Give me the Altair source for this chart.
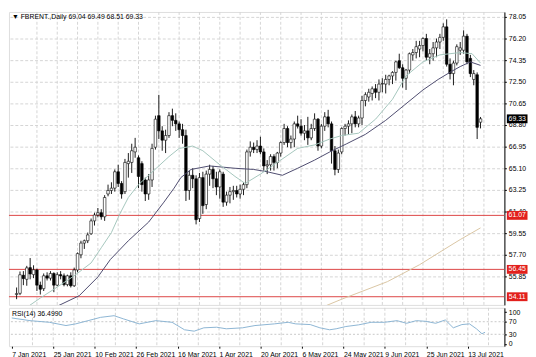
import altair as alt
import pandas as pd

# ---------------- data ----------------
date_labels = ["7 Jan 2021", "25 Jan 2021", "10 Feb 2021", "26 Feb 2021", "16 Mar 2021",
               "1 Apr 2021", "20 Apr 2021", "6 May 2021", "24 May 2021", "9 Jun 2021",
               "25 Jun 2021", "13 Jul 2021"]
date_bars = [0, 12, 24, 36, 48, 60, 72, 84, 96, 108, 120, 132]
grid_bars = [6, 12, 18, 24, 30, 36, 42, 48, 54, 60, 66, 72, 78, 84, 90, 96, 102, 108,
             114, 120, 126, 132, 138]

opens = [
    54.30, 54.40, 55.95, 55.60, 56.60, 56.00, 56.40, 55.10, 54.80, 55.90,
    55.70, 56.10, 55.10, 56.00, 55.90, 55.15, 55.90, 55.05, 56.40, 57.70,
    58.70, 58.90, 59.50, 60.60, 61.10, 61.30, 60.95, 62.90, 63.20, 63.40,
    64.80, 63.80, 63.10, 65.50, 65.60, 66.50, 66.00, 65.50, 64.10, 62.90,
    64.10, 66.90, 69.60, 68.30, 67.50, 67.90, 69.60, 69.20, 68.90, 68.40,
    67.90, 63.20, 64.50, 64.20, 60.80, 64.30, 62.00, 64.60, 65.00, 64.20,
    63.50, 64.60, 62.20, 62.80, 63.10, 63.20, 62.90, 63.30, 63.70, 66.50,
    66.90, 66.70, 67.00, 66.50, 65.30, 65.40, 66.10, 65.60, 66.40, 67.30,
    68.50, 67.30, 67.60, 68.90, 68.70, 68.10, 68.30, 67.70, 68.50, 69.30,
    67.00, 68.70, 69.50, 68.90, 66.60, 65.00, 66.50, 68.50, 68.70, 68.90,
    69.50, 68.90, 69.40, 70.90, 71.20, 71.50, 71.90, 71.60, 72.30, 72.30,
    72.70, 73.00, 73.30, 74.30, 73.70, 72.80, 73.50, 74.80, 75.00, 75.30,
    75.60, 76.20, 74.60, 74.90, 75.40, 75.90, 76.30, 77.20, 74.00, 73.20,
    74.10, 75.20, 75.20, 76.40, 74.50, 72.70, 73.10, 69.04]
highs = [
    54.90, 56.27, 56.30, 56.75, 57.42, 56.80, 56.50, 55.40, 56.10, 56.20,
    56.30, 56.20, 56.20, 56.30, 56.10, 56.00, 56.20, 56.60, 57.90, 58.90,
    59.00, 59.60, 60.80, 61.30, 61.70, 61.60, 62.80, 63.70, 63.90, 65.00,
    65.40, 64.00, 65.90, 66.40, 67.20, 67.70, 66.20, 65.70, 64.30, 64.60,
    67.20, 69.60, 71.38, 68.70, 68.40, 69.90, 70.20, 69.80, 69.10, 68.90,
    68.40, 64.90, 65.10, 64.50, 64.70, 64.80, 64.90, 65.40, 65.30, 64.80,
    65.00, 64.80, 63.10, 63.50, 63.60, 63.60, 63.70, 63.90, 66.70, 67.40,
    67.30, 67.50, 67.80, 66.80, 65.80, 66.30, 66.30, 66.50, 67.40, 68.90,
    68.70, 67.90, 69.10, 69.60, 69.30, 68.80, 69.50, 68.90, 69.80, 69.40,
    68.90, 69.90, 70.10, 69.10, 67.00, 66.70, 68.60, 68.90, 69.20, 69.70,
    70.00, 69.60, 71.30, 71.60, 71.90, 72.10, 72.30, 72.70, 72.80, 73.10,
    73.10, 73.40, 74.30, 74.90, 74.00, 73.60, 75.00, 75.30, 76.00, 76.00,
    76.30, 76.60, 75.30, 75.90, 76.20, 76.60, 77.50, 77.84, 74.50, 74.30,
    75.70, 75.90, 76.90, 76.60, 74.80, 73.50, 73.30, 69.49]
lows = [
    53.90, 54.25, 55.10, 55.05, 55.60, 55.70, 54.60, 54.30, 54.60, 55.50,
    55.50, 54.50, 55.00, 55.60, 55.00, 55.00, 54.90, 54.95, 56.20, 57.40,
    58.20, 58.70, 59.40, 60.20, 60.90, 60.70, 60.60, 62.70, 62.90, 63.10,
    63.50, 62.50, 62.90, 64.30, 64.70, 66.00, 63.40, 63.10, 62.30, 62.40,
    63.50, 66.70, 67.60, 66.60, 66.40, 67.70, 68.70, 68.30, 67.70, 67.20,
    62.30, 62.40, 63.40, 60.30, 60.50, 61.20, 61.60, 63.60, 63.40, 62.80,
    62.50, 61.80, 61.90, 62.10, 62.40, 62.60, 62.50, 62.80, 63.40, 66.10,
    66.40, 66.40, 66.30, 64.90, 64.60, 64.90, 64.90, 65.10, 66.10, 67.10,
    66.90, 66.80, 66.90, 68.50, 67.90, 67.50, 67.10, 67.50, 68.30, 66.60,
    66.80, 68.30, 68.60, 65.50, 64.50, 64.70, 66.30, 67.90, 68.00, 68.10,
    68.60, 68.60, 68.80, 70.40, 70.80, 70.90, 71.10, 70.90, 71.60, 71.50,
    72.20, 72.30, 72.60, 73.60, 72.00, 71.80, 73.20, 74.30, 74.50, 74.60,
    75.10, 74.30, 74.00, 74.30, 74.60, 75.30, 76.00, 73.80, 72.70, 72.20,
    73.90, 74.80, 74.90, 74.00, 72.90, 72.20, 67.60, 68.51]
closes = [
    54.38, 55.99, 55.66, 56.58, 56.06, 56.42, 55.10, 54.75, 55.90, 55.70,
    56.10, 55.10, 56.00, 55.90, 55.15, 55.90, 55.05, 56.40, 57.80, 58.70,
    58.90, 59.40, 60.60, 61.10, 61.30, 60.95, 62.60, 63.20, 63.40, 64.80,
    63.80, 62.90, 65.60, 65.70, 66.60, 66.90, 64.40, 63.70, 62.90, 64.10,
    66.80, 69.30, 68.30, 67.50, 67.90, 69.60, 69.20, 68.90, 68.40, 67.90,
    63.20, 64.50, 64.20, 60.70, 64.30, 61.90, 64.60, 65.00, 64.20, 63.50,
    64.80, 62.20, 62.80, 63.10, 63.20, 62.90, 63.30, 63.70, 66.50, 66.90,
    66.70, 67.00, 66.50, 65.30, 65.40, 66.10, 65.60, 66.40, 67.30, 68.50,
    67.30, 67.60, 68.90, 68.70, 68.10, 68.30, 67.70, 68.50, 69.30, 67.00,
    68.70, 69.50, 68.90, 66.60, 65.00, 66.40, 68.50, 68.70, 68.90, 69.50,
    68.90, 69.40, 70.90, 71.40, 71.60, 71.90, 71.60, 72.30, 72.35, 72.70,
    73.00, 73.30, 74.20, 73.70, 72.80, 73.50, 74.90, 75.00, 75.50, 75.60,
    76.20, 74.60, 74.90, 75.40, 75.90, 76.30, 77.20, 74.00, 73.20, 74.10,
    75.50, 75.40, 76.40, 74.20, 73.20, 73.20, 68.60, 69.33]

# moving averages, read at sampled bar positions
ma_fast_bar = [3, 7, 11, 17, 22, 25, 28, 30.5, 33, 36, 39, 42, 45, 48, 52, 55, 60, 64.5,
               67.5, 72, 78, 83, 88, 92.5, 96, 101, 106, 111, 115, 120, 125, 131, 134.5, 137]
ma_fast_val = [53.2, 54.0, 54.75, 55.9, 57.0, 58.3, 59.6, 61.2, 62.6, 63.7, 64.5, 65.3, 66.1,
               66.8, 67.0, 66.6, 65.4, 64.4, 63.8, 64.6, 65.8, 66.8, 67.1, 67.6, 67.9, 68.1,
               69.3, 71.0, 73.0, 74.2, 74.8, 75.0, 74.9, 74.1]
ma_slow_bar = [12, 18.5, 24, 27.7, 33, 39, 43.5, 46.5, 48.5, 51.5, 57, 64.5, 70, 74, 78.5,
               83, 88, 92.5, 97.5, 103, 109, 114.5, 120, 124.5, 128.5, 131, 134, 137]
ma_slow_val = [53.3, 54.2, 55.8, 57.3, 58.9, 60.5, 62.2, 63.4, 64.3, 65.0, 65.3, 65.1, 65.0,
               64.8, 64.5, 65.1, 65.8, 66.5, 67.2, 68.0, 69.2, 70.5, 71.8, 72.7, 73.4, 73.8,
               74.2, 73.9]
ma_long_bar = [91, 96, 100.5, 109.5, 119, 126.5, 131, 137]
ma_long_val = [53.3, 53.9, 54.4, 55.4, 56.85, 58.2, 59.0, 60.0]

rsi_bar = [0, 5.3, 10.9, 15.7, 18.5, 22.1, 25.7, 29.6, 32.4, 36.9, 41.7, 46.4, 50, 52.8,
           55.6, 59.3, 62.1, 66.8, 70.4, 76, 80, 82.2, 86.4, 89.2, 92, 93.9, 96.7, 100.4,
           104, 107.9, 111.5, 114.3, 117.1, 119.9, 122.7, 125.5, 127.8, 130.3, 132.5,
           134.5, 136.1, 137]
rsi_val = [81.9, 73.4, 68.1, 57.8, 63.1, 73.4, 83.8, 89.1, 78.8, 63.1, 73.4, 68.1, 44.4, 40.0,
           50.6, 52.5, 47.5, 50.6, 57.8, 63.1, 68.1, 63.1, 60.9, 50.6, 44.4, 47.5, 54.7, 60.0,
           68.1, 68.1, 73.4, 65.0, 73.4, 71.2, 65.0, 75.6, 50.6, 60.9, 63.1, 47.5, 31.9, 36.5]

price_ticks = [78.05, 76.20, 74.35, 72.50, 70.65, 68.80, 66.95, 65.10, 63.25, 61.40,
               59.55, 57.70, 55.85]
level_lines = [61.07, 56.45, 54.11]
last_price = [69.33]
rsi_ticks = [0, 30, 70, 100]
rsi_levels = [30, 70]
header_text = ["\u25bc FBRENT.,Daily  69.04 69.49 68.51 69.33"]
rsi_text = ["RSI(14) 36.4990"]

# ---------------- chart ----------------
W = 504
H_MAIN = 298
H_RSI = 39
FONT = "Liberation Sans"
FS = 7

xs = alt.Scale(domain=[-0.8, 142.6], nice=False, zero=False)
ys = alt.Scale(domain=[53.41, 78.47], nice=False, zero=False)
rs = alt.Scale(domain=[-7.8, 114], nice=False, zero=False)

bars = pd.DataFrame({"i": list(range(len(opens))), "open": opens, "high": highs,
                     "low": lows, "close": closes})
fast = pd.DataFrame({"i": ma_fast_bar, "v": ma_fast_val})
slow = pd.DataFrame({"i": ma_slow_bar, "v": ma_slow_val})
long_ = pd.DataFrame({"i": ma_long_bar, "v": ma_long_val})
grid_df = pd.DataFrame({"g": grid_bars})
lv = pd.DataFrame({"price": level_lines, "txt": [f"{v:.2f}" for v in level_lines]})
lp = pd.DataFrame({"price": last_price, "txt": [f"{v:.2f}" for v in last_price]})
hdr = pd.DataFrame({"t": header_text})

yaxis = alt.Axis(orient="right", values=price_ticks, format=".2f", grid=True,
                 gridColor="#d4d4d4", gridDash=[3, 2], gridWidth=1, tickSize=2,
                 tickColor="black", domainColor="black", labelFontSize=FS, labelFont=FONT,
                 labelColor="black", labelPadding=2, labelOverlap=False, labelFlush=False,
                 title=None)

def X(field):
    return alt.X(field, type="quantitative", scale=xs, axis=None)

def Y(field):
    return alt.Y(field, type="quantitative", scale=ys, axis=yaxis)

vgrid = alt.Chart(grid_df).mark_rule(color="#d4d4d4", strokeDash=[3, 2], strokeWidth=1).encode(
    x=X("g"))
red_lines = alt.Chart(lv).mark_rule(color="#dc4444", strokeWidth=1).encode(y=Y("price"))
wicks = alt.Chart(bars).mark_rule(color="black", strokeWidth=0.9).encode(
    x=X("i"), y=Y("low"), y2="high")
bodies = alt.Chart(bars).mark_bar(width=2.6, stroke="black", strokeWidth=0.6).encode(
    x=X("i"), y=Y("open"), y2="close",
    color=alt.condition("datum.close >= datum.open", alt.value("white"), alt.value("black")))
line_long = alt.Chart(long_).mark_line(color="#d9c5a2", strokeWidth=1, clip=True).encode(
    x=X("i"), y=Y("v"))
line_slow = alt.Chart(slow).mark_line(color="#4c4a6e", strokeWidth=1, clip=True).encode(
    x=X("i"), y=Y("v"))
line_fast = alt.Chart(fast).mark_line(color="#a4c6bd", strokeWidth=1, clip=True).encode(
    x=X("i"), y=Y("v"))
lv_box = alt.Chart(lv).mark_tick(orient="horizontal", size=21, thickness=9, color="#e2201c",
                                 opacity=1).encode(x=alt.value(W + 13), y=Y("price"))
lv_txt = alt.Chart(lv).mark_text(color="white", fontSize=FS, font=FONT, align="center",
                                 baseline="middle").encode(
    x=alt.value(W + 13), y=Y("price"), text="txt:N")
lp_box = alt.Chart(lp).mark_tick(orient="horizontal", size=21, thickness=9, color="black",
                                 opacity=1).encode(x=alt.value(W + 13), y=Y("price"))
lp_txt = alt.Chart(lp).mark_text(color="white", fontSize=FS, font=FONT, align="center",
                                 baseline="middle").encode(
    x=alt.value(W + 13), y=Y("price"), text="txt:N")
header = alt.Chart(hdr).mark_text(color="black", fontSize=FS, font=FONT, align="left",
                                  baseline="middle").encode(
    x=alt.value(3), y=alt.value(5), text="t:N")

main = alt.layer(vgrid, red_lines, line_long, wicks, bodies, line_slow, line_fast,
                 lv_box, lv_txt, lp_box, lp_txt, header).properties(width=W, height=H_MAIN)

# RSI panel
rsi_df = pd.DataFrame({"i": rsi_bar, "r": rsi_val})
lvl_df = pd.DataFrame({"lv": rsi_levels})
rtxt = pd.DataFrame({"t": rsi_text})
label_expr = "[" + ",".join(f"'{d}'" for d in date_labels) + "][round(datum.value / 12)]"
xaxis_rsi = alt.Axis(values=date_bars, labelExpr=label_expr, labelAlign="left",
                     labelFlush=False, labelFontSize=FS, labelFont=FONT, labelColor="black",
                     labelPadding=2, tickSize=2, tickColor="black", domain=False, grid=False,
                     labelOverlap=False, title=None)
raxis = alt.Axis(orient="right", values=rsi_ticks, grid=False, tickSize=2, tickColor="black",
                 domainColor="black", labelFontSize=FS, labelFont=FONT, labelColor="black",
                 labelPadding=2, labelOverlap=False, labelFlush=False, title=None)

r_grid = alt.Chart(grid_df).mark_rule(color="#d4d4d4", strokeDash=[3, 2], strokeWidth=1).encode(
    x=alt.X("g:Q", scale=xs, axis=xaxis_rsi))
r_lvl = alt.Chart(lvl_df).mark_rule(color="#c8c8c8", strokeDash=[2, 2], strokeWidth=1).encode(
    y=alt.Y("lv:Q", scale=rs, axis=raxis))
r_line = alt.Chart(rsi_df).mark_line(color="#8cb5d3", strokeWidth=1, clip=True).encode(
    x=alt.X("i:Q", scale=xs, axis=xaxis_rsi), y=alt.Y("r:Q", scale=rs, axis=raxis))
r_text = alt.Chart(rtxt).mark_text(color="black", fontSize=FS, font=FONT, align="left",
                                   baseline="middle").encode(
    x=alt.value(3), y=alt.value(6), text="t:N")

rsi = alt.layer(r_grid, r_lvl, r_line, r_text).properties(width=W, height=H_RSI)

chart = alt.vconcat(main, rsi, spacing=1,
                    padding={"left": 0, "top": 0, "right": 0, "bottom": 0}).configure_view(
    stroke="#6e6e6e", strokeWidth=1).configure(background="white")

chart.save("out.html", embed_options={"renderer": "svg", "actions": False})
